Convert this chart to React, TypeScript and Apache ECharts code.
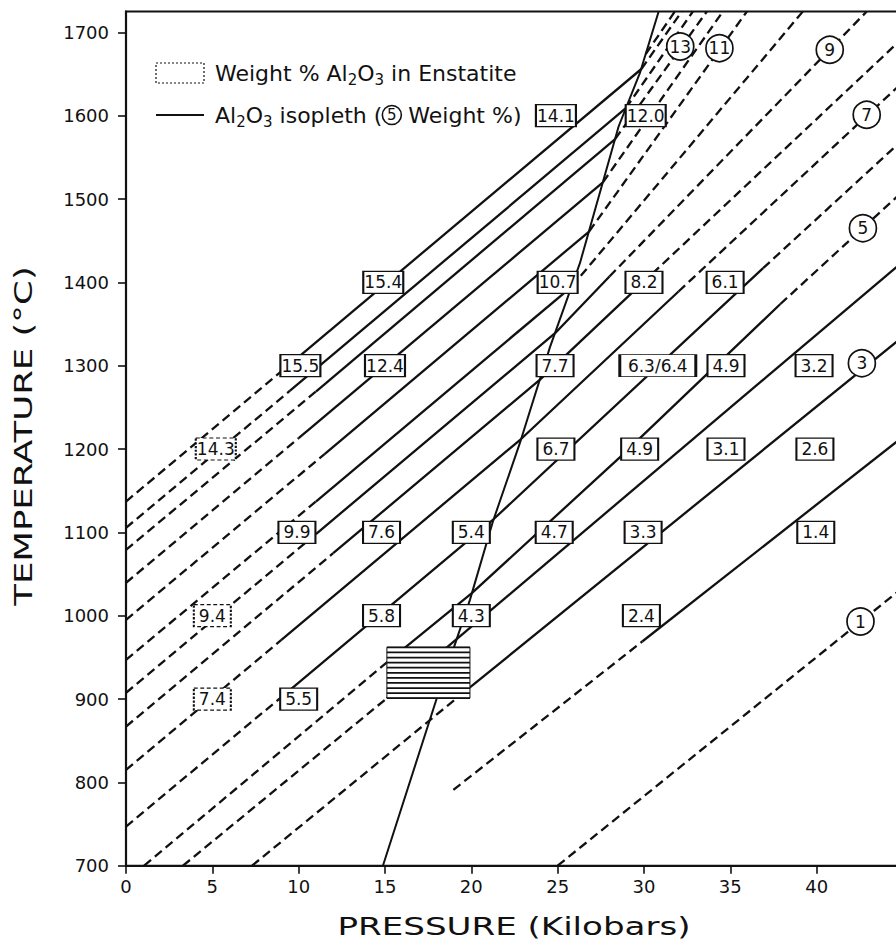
import React, { useEffect, useRef } from 'react';
import * as echarts from 'echarts';

// ---- axis ticks ----
const pressureTicks = [0, 5, 10, 15, 20, 25, 30, 35, 40];
const temperatureTicks = [700, 800, 900, 1000, 1100, 1200, 1300, 1400, 1500, 1600, 1700];

// ---- experimental points: weight % Al2O3 in enstatite ----
const boxLabels = ['14.3', '15.5', '12.4', '15.4', '9.9', '7.6', '9.4', '5.8', '7.4', '5.5',
  '14.1', '12.0', '10.7', '8.2', '6.1', '7.7', '6.3/6.4', '4.9', '3.2', '6.7', '4.9', '3.1', '2.6',
  '5.4', '4.7', '3.3', '1.4', '4.3', '2.4'];
const boxPressure = [5.2, 10.1, 15.0, 14.9, 9.9, 14.8, 5.0, 14.8, 5.0, 10.0,
  24.9, 30.1, 25.0, 30.0, 34.7, 24.85, 30.8, 34.75, 39.85, 24.9, 29.75, 34.75, 39.9,
  20.0, 24.8, 29.95, 39.95, 20.0, 29.85];
const boxTemperature = [1200, 1300, 1300, 1400, 1100, 1100, 1000, 1000, 900, 900,
  1600, 1600, 1400, 1400, 1400, 1300, 1300, 1300, 1300, 1200, 1200, 1200, 1200,
  1100, 1100, 1100, 1100, 1000, 1000];
const dashedBoxLabels = ['14.3', '9.4', '7.4'];

// ---- isopleth number circles ----
const circleLabels = ['13', '11', '9', '7', '5', '3', '1'];
const circlePressure = [32.1, 34.37, 40.76, 42.9, 42.68, 42.62, 42.54];
const circleTemperature = [1683, 1681, 1679, 1601, 1465, 1303, 993];

// ---- spinel / garnet boundary ----
const boundaryLine = [[14.88, 700], [18.0, 901], [19.92, 1019], [21.25, 1113], [22.81, 1207],
  [24.55, 1322], [26.29, 1423], [28.53, 1587], [29.76, 1651], [30.85, 1725]];

// ---- hatched field [P0, T0, P1, T1] ----
const hatchedBox = [[15.11, 901, 19.92, 962]];

// ---- isopleths: solid portions ----
const solidIsopleths = [
  [[29.9, 969], [44.77, 1211]],
  [[19.92, 914], [44.77, 1331]],
  [[15.11, 901], [44.77, 1421]],
  [[15.11, 944], [20.03, 1027], [28.6, 1190], [37.9, 1374]],
  [[9.5, 911], [21.3, 1116], [36.9, 1417]],
  [[9, 971], [22.88, 1212], [32, 1389]],
  [[12, 1075], [23.96, 1283], [29.9, 1399]],
  [[11, 1098], [24.85, 1339], [28, 1407]],
  [[11, 1137], [25.82, 1395]],
  [[11.5, 1194], [26.82, 1461]],
  [[10, 1213], [27.62, 1520]],
  [[11, 1269], [28.33, 1572]],
  [[9.5, 1270], [28.95, 1609]],
  [[9.5, 1302], [29.85, 1656]],
];

// ---- isopleths: dashed portions ----
const dashedIsopleths = [
  [[25, 700], [44.77, 1030]],
  [[18.96, 791], [29.9, 969]],
  [[7.3, 700], [19.92, 914]],
  [[3.3, 700], [15.11, 901]],
  [[1.05, 700], [15.11, 944]],
  [[37.9, 1374], [44.77, 1505]],
  [[0, 747], [9.5, 911]],
  [[36.9, 1417], [44.77, 1567]],
  [[0, 815], [9, 971]],
  [[32, 1389], [44.77, 1636]],
  [[0, 867], [12, 1075]],
  [[29.9, 1399], [44.77, 1689]],
  [[0, 907.5], [11, 1098]],
  [[28, 1407], [42.9, 1725]],
  [[0, 947], [11, 1137]],
  [[25.82, 1395], [39.2, 1725]],
  [[0, 995], [11.5, 1194]],
  [[26.82, 1461], [35.96, 1725]],
  [[0, 1039.5], [10, 1213]],
  [[27.62, 1520], [34.57, 1725]],
  [[0, 1079], [11, 1269]],
  [[28.33, 1572], [33.64, 1725]],
  [[0, 1105.5], [9.5, 1270]],
  [[28.95, 1609], [32.83, 1725]],
  [[0, 1137], [9.5, 1302]],
  [[29.85, 1656], [32.19, 1725]],
  [[30.1, 1674], [31.79, 1725]],
];

const FONT = 'DejaVu Sans';
const INK = '#111';

function buildOption() {
  const lineSeries = (segs: number[][][], dashed: boolean) =>
    segs.map((seg) => ({
      type: 'line',
      data: seg,
      symbol: 'none',
      silent: true,
      z: 2,
      lineStyle: { color: INK, width: 2.3, type: dashed ? [9, 5] : 'solid' },
    }));

  const boxData = boxLabels.map((label, i) => ({
    name: label,
    value: [boxPressure[i], boxTemperature[i]],
    symbolSize: [label.length > 4 ? 76 : label.length > 3 ? 40 : 37, 22],
    itemStyle: {
      borderType: dashedBoxLabels.includes(label) ? [3, 2] : 'solid',
    },
  }));

  const circleData = circleLabels.map((label, i) => ({
    name: label,
    value: [circlePressure[i], circleTemperature[i]],
  }));

  const tickFormatter = (v: number) => String(Math.round(v));

  return {
    animation: false,
    backgroundColor: '#fff',
    grid: {
      left: 126,
      right: -3,
      top: 11.5,
      bottom: 75.3,
      show: true,
      borderColor: INK,
      borderWidth: 2,
      outerBoundsMode: 'none',
    },
    xAxis: {
      type: 'value',
      min: 0,
      max: 44.77,
      interval: 5,
      axisLine: { show: true, onZero: false, lineStyle: { color: INK, width: 2.2 } },
      axisTick: { show: true, length: 8, customValues: pressureTicks, lineStyle: { color: INK, width: 1.6 } },
      axisLabel: { customValues: pressureTicks, formatter: tickFormatter, margin: 12, fontSize: 18, fontFamily: FONT, color: INK },
      splitLine: { show: false },
    },
    yAxis: {
      type: 'value',
      min: 700,
      max: 1725,
      interval: 100,
      axisLine: { show: true, onZero: false, lineStyle: { color: INK, width: 2.2 } },
      axisTick: { show: true, length: 8, customValues: temperatureTicks, lineStyle: { color: INK, width: 1.6 } },
      axisLabel: { customValues: temperatureTicks, formatter: tickFormatter, margin: 17, fontSize: 18, fontFamily: FONT, color: INK },
      splitLine: { show: false },
    },
    graphic: [
      {
        type: 'rect',
        shape: { x: 156, y: 63, width: 48, height: 20 },
        style: { fill: '#fff', stroke: INK, lineWidth: 1.2, lineDash: [2, 2] },
      },
      {
        type: 'text',
        x: 215,
        y: 73,
        style: {
          text: 'Weight % Al{s|2}O{s|3} in Enstatite',
          fontSize: 22,
          fontFamily: FONT,
          fill: INK,
          align: 'left',
          verticalAlign: 'middle',
          textAlign: 'left',
          textVerticalAlign: 'middle',
          rich: {
            s: { fontSize: 15, fontFamily: FONT, lineHeight: 15, padding: [14, 0, 0, 0], fill: INK, color: INK },
          },
        },
      },
      {
        type: 'line',
        shape: { x1: 156, y1: 115, x2: 204, y2: 115 },
        style: { stroke: INK, lineWidth: 2.2 },
      },
      {
        type: 'text',
        x: 215,
        y: 115,
        style: {
          text: 'Al{s|2}O{s|3} isopleth ({c|5} Weight %)',
          fontSize: 22,
          fontFamily: FONT,
          fill: INK,
          align: 'left',
          verticalAlign: 'middle',
          textAlign: 'left',
          textVerticalAlign: 'middle',
          rich: {
            s: { fontSize: 15, fontFamily: FONT, lineHeight: 15, padding: [14, 0, 0, 0], fill: INK, color: INK },
            c: {
              fontSize: 15, fontFamily: FONT, width: 19, height: 19, lineHeight: 19, align: 'center',
              borderColor: INK, borderWidth: 1.6, borderRadius: 10, fill: INK, color: INK,
            },
          },
        },
      },
      {
        type: 'text',
        x: 514,
        y: 927,
        scaleX: 1.42,
        style: {
          text: 'PRESSURE (Kilobars)',
          fontSize: 24,
          fontFamily: FONT,
          fill: INK,
          align: 'center',
          verticalAlign: 'middle',
          textAlign: 'center',
          textVerticalAlign: 'middle',
        },
      },
      {
        type: 'text',
        x: 23,
        y: 436,
        rotation: Math.PI / 2,
        scaleX: 1.42,
        style: {
          text: 'TEMPERATURE (°C)',
          fontSize: 25,
          fontFamily: FONT,
          fill: INK,
          align: 'center',
          verticalAlign: 'middle',
          textAlign: 'center',
          textVerticalAlign: 'middle',
        },
      },
    ],
    series: [
      {
        type: 'line',
        data: boundaryLine,
        symbol: 'none',
        silent: true,
        z: 2,
        lineStyle: { color: INK, width: 2 },
      },
      ...lineSeries(solidIsopleths, false),
      ...lineSeries(dashedIsopleths, true),
      {
        type: 'custom',
        data: hatchedBox,
        encode: { x: [0, 2], y: [1, 3] },
        z: 4,
        silent: true,
        renderItem: (params: any, api: any) => {
          const p0 = api.coord([api.value(0), api.value(1)]);
          const p1 = api.coord([api.value(2), api.value(3)]);
          const x = p0[0];
          const y = p1[1];
          const w = p1[0] - p0[0];
          const h = p0[1] - p1[1];
          const n = 10;
          const children: any[] = [
            { type: 'rect', shape: { x, y, width: w, height: h }, style: { fill: '#fff', stroke: INK, lineWidth: 1 } },
          ];
          for (let i = 0; i <= n; i++) {
            const yy = y + (h * i) / n;
            children.push({
              type: 'line',
              shape: { x1: x, y1: yy, x2: x + w, y2: yy },
              style: { stroke: INK, lineWidth: 1.7 },
            });
          }
          return { type: 'group', children };
        },
      },
      {
        type: 'scatter',
        data: boxData,
        symbol: 'rect',
        z: 5,
        silent: true,
        itemStyle: { color: '#fff', borderColor: INK, borderWidth: 1.6, opacity: 1 },
        label: {
          show: true,
          position: 'inside',
          formatter: '{b}',
          fontSize: 17,
          fontFamily: FONT,
          color: INK,
        },
      },
      {
        type: 'scatter',
        data: circleData,
        symbol: 'circle',
        symbolSize: 27,
        z: 5,
        silent: true,
        itemStyle: { color: '#fff', borderColor: INK, borderWidth: 1.7, opacity: 1 },
        label: {
          show: true,
          position: 'inside',
          formatter: '{b}',
          fontSize: 17,
          fontFamily: FONT,
          color: INK,
        },
      },
    ],
  };
}

export default function App() {
  const ref = useRef<HTMLDivElement>(null);
  useEffect(() => {
    document.body.style.margin = '0';
    if (!ref.current) return;
    const chart = echarts.init(ref.current, null, { renderer: 'svg' });
    chart.setOption(buildOption() as any);
    return () => {
      chart.dispose();
    };
  }, []);
  return <div ref={ref} style={{ width: 896, height: 941 }} />;
}
